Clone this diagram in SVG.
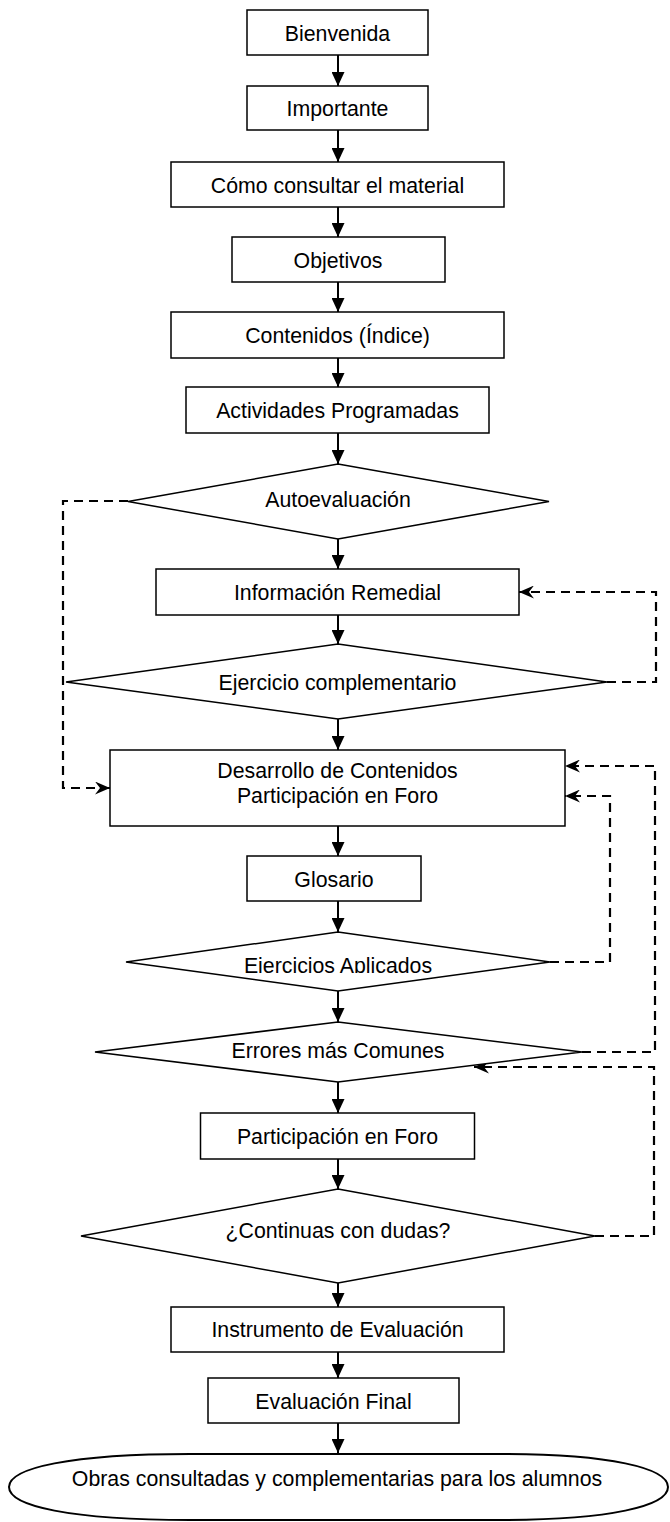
<svg xmlns="http://www.w3.org/2000/svg" width="670" height="1522" viewBox="0 0 670 1522">
<style>
  .box { fill: #ffffff; stroke: #000000; stroke-width: 1.5; }
  .lbl { font-family: "Liberation Sans", Arial, sans-serif; font-size: 21.3px; fill: #000000; text-anchor: middle; }
  .flow { fill: none; stroke: #000000; stroke-width: 2; }
  .dash { fill: none; stroke: #000000; stroke-width: 2.2; stroke-dasharray: 9 6; }
</style>
<defs>
  <marker id="solid" markerUnits="userSpaceOnUse" markerWidth="14" markerHeight="13" refX="14" refY="6.5" orient="auto">
    <path d="M0,0 L14,6.5 L0,13 Z" fill="#000000"/>
  </marker>
  <marker id="open" markerUnits="userSpaceOnUse" markerWidth="15" markerHeight="13" refX="15" refY="6.5" orient="auto">
    <path d="M0,0 L15,6.5 L0,13 L5,6.5 Z" fill="#000000"/>
  </marker>
  <clipPath id="clipAplicados">
    <rect x="100" y="940" width="480" height="33"/>
  </clipPath>
</defs>
<rect width="670" height="1522" fill="#ffffff"/>

<g id="connectors">
  <line class="flow" x1="338" y1="55" x2="338" y2="86" marker-end="url(#solid)"/>
  <line class="flow" x1="338" y1="130" x2="338" y2="162" marker-end="url(#solid)"/>
  <line class="flow" x1="338" y1="207" x2="338" y2="237" marker-end="url(#solid)"/>
  <line class="flow" x1="338" y1="282" x2="338" y2="312" marker-end="url(#solid)"/>
  <line class="flow" x1="338" y1="358" x2="338" y2="387" marker-end="url(#solid)"/>
  <line class="flow" x1="338" y1="433" x2="338" y2="464" marker-end="url(#solid)"/>
  <line class="flow" x1="338" y1="539" x2="338" y2="569" marker-end="url(#solid)"/>
  <line class="flow" x1="338" y1="615" x2="338" y2="644" marker-end="url(#solid)"/>
  <line class="flow" x1="338" y1="719" x2="338" y2="750" marker-end="url(#solid)"/>
  <line class="flow" x1="338" y1="826" x2="338" y2="856" marker-end="url(#solid)"/>
  <line class="flow" x1="338" y1="901" x2="338" y2="932" marker-end="url(#solid)"/>
  <line class="flow" x1="338" y1="991" x2="338" y2="1022" marker-end="url(#solid)"/>
  <line class="flow" x1="338" y1="1082" x2="338" y2="1113" marker-end="url(#solid)"/>
  <line class="flow" x1="338" y1="1159" x2="338" y2="1189" marker-end="url(#solid)"/>
  <line class="flow" x1="338" y1="1277" x2="338" y2="1307" marker-end="url(#solid)"/>
  <line class="flow" x1="338" y1="1348" x2="338" y2="1378" marker-end="url(#solid)"/>
  <line class="flow" x1="338" y1="1420" x2="338" y2="1453" marker-end="url(#solid)"/>

  <polyline class="dash" points="128,501 63,501 63,788 110,788" marker-end="url(#open)"/>
  <polyline class="dash" points="607,682 656,682 656,592 519,592" marker-end="url(#open)"/>
  <polyline class="dash" points="550,962 610,962 610,796 565,796" marker-end="url(#open)"/>
  <polyline class="dash" points="582,1052 655,1052 655,766 565,766" marker-end="url(#open)"/>
  <polyline class="dash" points="595,1236 654,1236 654,1067 474,1067" marker-end="url(#open)"/>
</g>

<g id="n_bienvenida">
  <rect class="box" x="247" y="10" width="181" height="45"/>
  <text class="lbl" x="337.5" y="40.5">Bienvenida</text>
</g>
<g id="n_importante">
  <rect class="box" x="247" y="86" width="181" height="44"/>
  <text class="lbl" x="337.5" y="116">Importante</text>
</g>
<g id="n_como">
  <rect class="box" x="171" y="162" width="333" height="45"/>
  <text class="lbl" x="337.5" y="192.5">Cómo consultar el material</text>
</g>
<g id="n_objetivos">
  <rect class="box" x="232" y="237" width="213" height="45"/>
  <text class="lbl" x="338" y="267.5">Objetivos</text>
</g>
<g id="n_contenidos">
  <rect class="box" x="171" y="312" width="333" height="46"/>
  <text class="lbl" x="337.5" y="343">Contenidos (Índice)</text>
</g>
<g id="n_actividades">
  <rect class="box" x="186" y="387" width="303" height="46"/>
  <text class="lbl" x="337.5" y="418">Actividades Programadas</text>
</g>
<g id="n_autoevaluacion">
  <polygon class="box" points="338,464 549,501.5 338,539 128,501.5"/>
  <text class="lbl" x="338" y="507">Autoevaluación</text>
</g>
<g id="n_remedial">
  <rect class="box" x="156" y="569" width="363" height="46"/>
  <text class="lbl" x="337.5" y="600">Información Remedial</text>
</g>
<g id="n_complementario">
  <polygon class="box" points="338,644 607,682 338,719 66,682"/>
  <text class="lbl" x="337.5" y="690">Ejercicio complementario</text>
</g>
<g id="n_desarrollo">
  <rect class="box" x="110" y="750" width="455" height="76"/>
  <text class="lbl" x="337.5" y="778">Desarrollo de Contenidos</text>
  <text class="lbl" x="337.5" y="803">Participación en Foro</text>
</g>
<g id="n_glosario">
  <rect class="box" x="247" y="856" width="174" height="45"/>
  <text class="lbl" x="334" y="887">Glosario</text>
</g>
<g id="n_aplicados">
  <polygon class="box" points="338,932 550,962 338,991 126,962"/>
  <text class="lbl" x="338" y="972.5" clip-path="url(#clipAplicados)">Ejercicios Aplicados</text>
</g>
<g id="n_errores">
  <polygon class="box" points="338,1022 582,1052 338,1082 95,1052"/>
  <text class="lbl" x="338" y="1058">Errores más Comunes</text>
</g>
<g id="n_foro">
  <rect class="box" x="200.5" y="1113" width="274" height="46"/>
  <text class="lbl" x="337.5" y="1144">Participación en Foro</text>
</g>
<g id="n_dudas">
  <polygon class="box" points="338,1189 595,1236 338,1283 81,1236"/>
  <text class="lbl" x="338" y="1238">¿Continuas con dudas?</text>
</g>
<g id="n_instrumento">
  <rect class="box" x="171" y="1307" width="333" height="45"/>
  <text class="lbl" x="337.5" y="1337">Instrumento de Evaluación</text>
</g>
<g id="n_final">
  <rect class="box" x="208" y="1378" width="251" height="45"/>
  <text class="lbl" x="333.5" y="1409">Evaluación Final</text>
</g>
<g id="n_obras">
  <path class="box" style="stroke-width:2" d="M190,1454 L500,1454 C610,1454 668,1468 668,1487 C668,1506 610,1520 500,1520 L190,1520 C70,1520 9,1506 9,1487 C9,1468 70,1454 190,1454 Z"/>
  <text class="lbl" x="337" y="1486">Obras consultadas y complementarias para los alumnos</text>
</g>
</svg>
